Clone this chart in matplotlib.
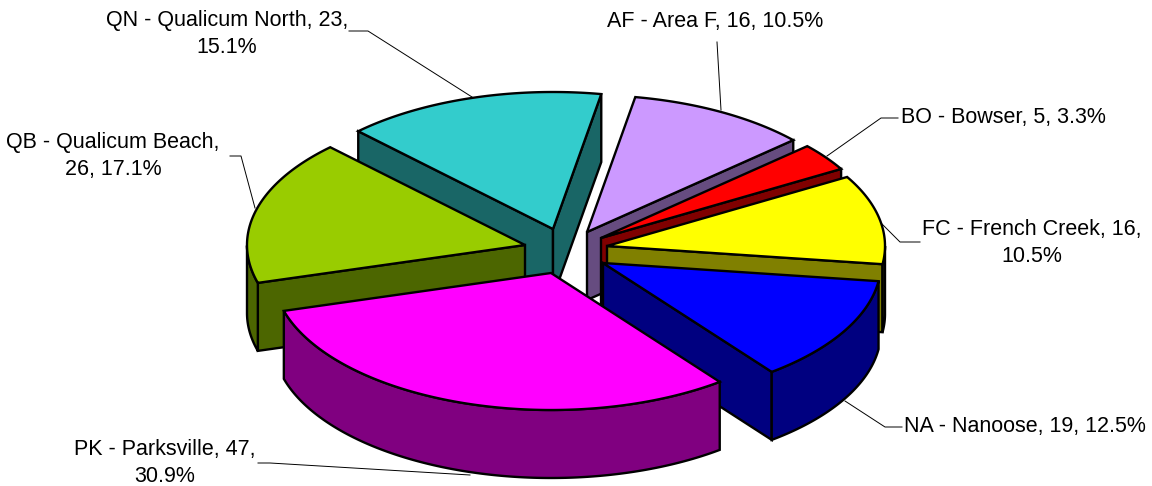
import numpy as np
import matplotlib
matplotlib.use("Agg")
import matplotlib.pyplot as plt
from matplotlib.patches import Polygon

# data
codes = ["AF - Area F", "BO - Bowser", "FC - French Creek", "NA - Nanoose",
         "PK - Parksville", "QB - Qualicum Beach", "QN - Qualicum North"]
values = [16, 5, 16, 19, 47, 26, 23]
pct = ["10.5%", "3.3%", "10.5%", "12.5%", "30.9%", "17.1%", "15.1%"]
top_colors = ["#CC99FF", "#FF0000", "#FFFF00", "#0000FF", "#FF00FF", "#99CC00", "#33CCCC"]
side_colors = ["#664C80", "#800000", "#808000", "#000080", "#800080", "#4C6600", "#196666"]

# layout (pixels)
W, H = 1152, 486
RX, RY, DEPTH = 278, 137, 68
ROTATION = 10.0
apex = [(587, 232), (601, 238), (607, 246), (603, 263), (551, 273), (525, 245), (553, 229)]
draw_order = [6, 0, 1, 2, 5, 3, 4]
label_xy = [(715, 21), (1003, 117), (1032, 243), (1025, 426), (165, 463), (113, 156), (227, 34)]
leaders = [
    [(717, 42), (721, 110)],
    [(898, 118), (881, 118), (827, 156)],
    [(882, 224), (900, 242), (920, 242)],
    [(845, 401), (885, 427), (902, 427)],
    [(258, 463), (270, 463), (470, 475)],
    [(230, 156), (241, 156), (255, 208)],
    [(349, 31), (368, 31), (472, 97)],
]

fig = plt.figure(figsize=(W / 100, H / 100), dpi=100)
ax = fig.add_axes([0, 0, 1, 1])
ax.set_xlim(0, W)
ax.set_ylim(H, 0)
ax.axis("off")

LW = 1.7
edges = np.concatenate([[0], np.cumsum(values)]) / sum(values) * 360 + ROTATION


def poly(pts, fc, z):
    ax.add_patch(Polygon(pts, closed=True, fc=fc, ec="black", lw=LW, joinstyle="miter", zorder=z))


for rank, i in enumerate(draw_order):
    a, b = edges[i], edges[i + 1]
    th = np.radians(np.linspace(a, b, 180))
    cx, cy = apex[i]
    arc = np.column_stack([cx + RX * np.sin(th), cy - RY * np.cos(th)])
    low = arc + [0, DEPTH]
    z = 5 + rank
    c = np.array([[cx, cy]])
    cl = c + [0, DEPTH]
    # only the faces that turn towards the viewer
    if np.sin(np.radians(a)) < 0:
        poly(np.vstack([c, arc[:1], low[:1], cl]), side_colors[i], z)
    if np.sin(np.radians(b)) > 0:
        poly(np.vstack([c, arc[-1:], low[-1:], cl]), side_colors[i], z)
    front = np.cos(th) < 0
    if front.any():
        poly(np.vstack([arc[front], low[front][::-1]]), side_colors[i], z)
    poly(np.vstack([c, arc]), top_colors[i], z)

for pts in leaders:
    xs, ys = zip(*pts)
    ax.plot(xs, ys, color="black", lw=0.7, zorder=2)

texts = [
    f"{codes[0]}, {values[0]}, {pct[0]}",
    f"{codes[1]}, {values[1]}, {pct[1]}",
    f"{codes[2]}, {values[2]},\n{pct[2]}",
    f"{codes[3]}, {values[3]}, {pct[3]}",
    f"{codes[4]}, {values[4]},\n{pct[4]}",
    f"{codes[5]},\n{values[5]}, {pct[5]}",
    f"{codes[6]}, {values[6]},\n{pct[6]}",
]
for (x, y), txt in zip(label_xy, texts):
    ax.text(x, y, txt, ha="center", va="center", family="Liberation Sans",
            fontsize=15.5, color="black", linespacing=1.42, zorder=20)

fig.savefig("out.png", dpi=100)
